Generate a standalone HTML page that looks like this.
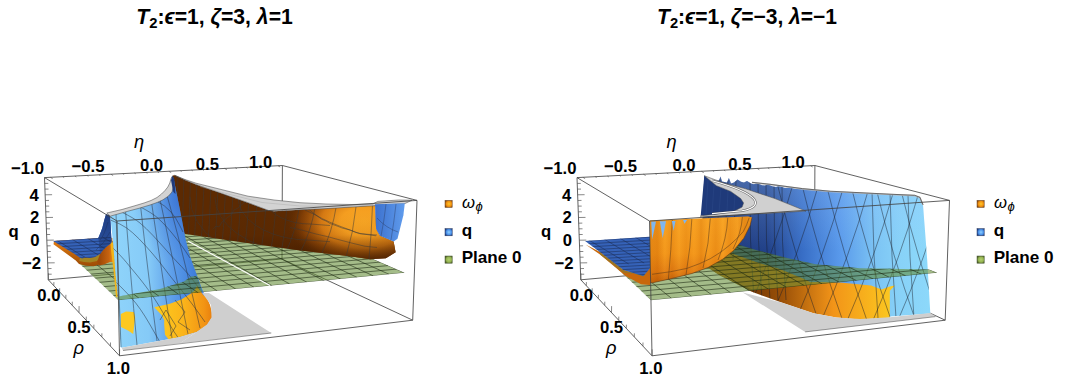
<!DOCTYPE html>
<html><head><meta charset="utf-8">
<style>
html,body{margin:0;padding:0;background:#fff;}
body{width:1072px;height:385px;overflow:hidden;position:relative;}
svg{position:absolute;left:0;top:0;}
text{font-family:"Liberation Sans",sans-serif;font-weight:bold;fill:#000;}
</style></head><body>
<svg width="1072" height="385" viewBox="0 0 1072 385">
<defs>
  <radialGradient id="sw1" cx="0.55" cy="0.5" r="0.6">
    <stop offset="0" stop-color="#ffc828"/><stop offset="0.6" stop-color="#f09010"/><stop offset="1" stop-color="#8a4a08"/>
  </radialGradient>
  <radialGradient id="sw2" cx="0.55" cy="0.5" r="0.6">
    <stop offset="0" stop-color="#8cd0ff"/><stop offset="0.6" stop-color="#4a90e8"/><stop offset="1" stop-color="#1e3c80"/>
  </radialGradient>
  <radialGradient id="sw3" cx="0.55" cy="0.5" r="0.6">
    <stop offset="0" stop-color="#b4d070"/><stop offset="0.6" stop-color="#94b450"/><stop offset="1" stop-color="#4a5a28"/>
  </radialGradient>
</defs>
<defs>
  <linearGradient id="towerL" gradientUnits="userSpaceOnUse" x1="118" y1="0" x2="195" y2="0">
    <stop offset="0" stop-color="#8ed3fa"/>
    <stop offset="0.4" stop-color="#85caf7"/>
    <stop offset="0.7" stop-color="#5e9fea"/>
    <stop offset="1" stop-color="#3f7edb"/>
  </linearGradient>
  <radialGradient id="towerTop" gradientUnits="userSpaceOnUse" cx="0" cy="0" r="1" gradientTransform="translate(180,196) scale(48,70)">
    <stop offset="0" stop-color="#2a5ec8" stop-opacity="0.6"/>
    <stop offset="0.5" stop-color="#2a5ec8" stop-opacity="0.25"/>
    <stop offset="1" stop-color="#2a5ec8" stop-opacity="0"/>
  </radialGradient>
  <linearGradient id="wallL" gradientUnits="userSpaceOnUse" x1="175" y1="0" x2="380" y2="0">
    <stop offset="0" stop-color="#5c2a02"/>
    <stop offset="0.45" stop-color="#5e2b02"/>
    <stop offset="0.62" stop-color="#8a4406"/>
    <stop offset="0.78" stop-color="#dc7e12"/>
    <stop offset="0.9" stop-color="#f69e20"/>
    <stop offset="0.97" stop-color="#f8a422"/>
    <stop offset="1" stop-color="#c06a10"/>
  </linearGradient>
  <radialGradient id="wallGlow" gradientUnits="userSpaceOnUse" cx="0" cy="0" r="1" gradientTransform="translate(364,222) scale(78,48)">
    <stop offset="0" stop-color="#f8a624"/>
    <stop offset="0.3" stop-color="#f59e20"/>
    <stop offset="0.55" stop-color="#dc7e14" stop-opacity="0.95"/>
    <stop offset="0.8" stop-color="#9a4c08" stop-opacity="0.6"/>
    <stop offset="1" stop-color="#5c2a02" stop-opacity="0"/>
  </radialGradient>
  <linearGradient id="wallShade" gradientUnits="userSpaceOnUse" x1="0" y1="212" x2="0" y2="258">
    <stop offset="0" stop-color="#3a1800" stop-opacity="0"/>
    <stop offset="0.5" stop-color="#3a1800" stop-opacity="0.05"/>
    <stop offset="0.8" stop-color="#3a1800" stop-opacity="0.35"/>
    <stop offset="1" stop-color="#3a1800" stop-opacity="0.6"/>
  </linearGradient>
  <linearGradient id="yelL" gradientUnits="userSpaceOnUse" x1="160" y1="0" x2="212" y2="0">
    <stop offset="0" stop-color="#fdc81e"/>
    <stop offset="0.45" stop-color="#fbb41a"/>
    <stop offset="0.85" stop-color="#f29414"/>
    <stop offset="1" stop-color="#e8800e"/>
  </linearGradient>
  <linearGradient id="blueR" gradientUnits="userSpaceOnUse" x1="376" y1="0" x2="404" y2="0">
    <stop offset="0" stop-color="#3d72cf"/>
    <stop offset="1" stop-color="#5f9bec"/>
  </linearGradient>
  <linearGradient id="hillL" gradientUnits="userSpaceOnUse" x1="0" y1="214" x2="0" y2="250">
    <stop offset="0" stop-color="#1e3c80"/>
    <stop offset="1" stop-color="#2c52a0"/>
  </linearGradient>
  <linearGradient id="oraLeft" gradientUnits="userSpaceOnUse" x1="0" y1="242" x2="0" y2="267">
    <stop offset="0" stop-color="#e07a10"/>
    <stop offset="1" stop-color="#9a4a06"/>
  </linearGradient>
</defs>
<path d="M282.4,165.5 L282.0,259.0 M48.3,279.8 L282.0,259.0 M282.0,259.0 L412.7,320.2 " stroke="#444" stroke-width="0.85" fill="none"/>
<clipPath id="pf1"><path d="M60.0,245.5 L291.7,223.6 L404.7,272.8 L118.5,300.3 Z"/></clipPath>
<g ><g clip-path="url(#pf1)"><path d="M60.0,245.5 L291.7,223.6 L404.7,272.8 L118.5,300.3 Z" fill="#638b33" opacity="0.58"/><path d="M46.7,239.6 L118.5,300.3 M63.8,238.5 L139.0,298.3 M80.6,237.4 L159.1,296.4 M97.2,236.3 L178.8,294.5 M113.5,235.2 L198.1,292.7 M129.6,234.2 L217.1,290.8 M145.5,233.2 L235.7,289.0 M161.1,232.1 L254.0,287.3 M176.4,231.1 L271.9,285.6 M191.6,230.1 L289.6,283.9 M206.5,229.2 L306.9,282.2 M221.2,228.2 L323.9,280.6 M235.7,227.3 L340.6,279.0 M250.0,226.3 L357.1,277.4 M264.1,225.4 L373.2,275.8 M278.0,224.5 L389.1,274.3 M291.7,223.6 L404.7,272.8 M46.7,239.6 L291.7,223.6 M50.4,242.7 L297.6,226.2 M54.1,245.9 L303.7,228.8 M58.0,249.1 L309.8,231.5 M61.9,252.5 L316.1,234.2 M66.0,255.9 L322.6,237.1 M70.1,259.4 L329.2,239.9 M74.4,263.0 L336.0,242.9 M78.8,266.7 L342.9,245.9 M83.3,270.5 L350.0,249.0 M87.9,274.4 L357.2,252.1 M92.6,278.4 L364.7,255.4 M97.5,282.5 L372.3,258.7 M102.5,286.8 L380.1,262.1 M107.7,291.2 L388.1,265.6 M113.0,295.7 L396.3,269.1 M118.5,300.3 L404.7,272.8" stroke="#1c2812" stroke-width="0.8" fill="none" opacity="0.72"/></g></g>
<path d="M188.2,241.3 L270,285.5" stroke="#fff" stroke-width="1.1"/>
<path d="M172.5,175.5 L174.7,175.3 L185.0,180.0 L196.0,184.5 L222.0,193.6 L248.0,202.7 L268.7,210.5 L274.0,211.2 L300.0,209.7 L326.0,208.6 L352.0,207.0 L375.0,205.6 L376.1,229.0 L380.0,235.8 L393.6,241.6 L395.6,252.3 L385.9,258.2 L370.3,259.2 L350.0,256.2 L300.0,250.4 L230.0,240.6 L185.5,234.0 L176.0,232.0 Z" fill="#5c2a02" />
<path d="M172.5,175.5 L174.7,175.3 L185.0,180.0 L196.0,184.5 L222.0,193.6 L248.0,202.7 L268.7,210.5 L274.0,211.2 L300.0,209.7 L326.0,208.6 L352.0,207.0 L375.0,205.6 L376.1,229.0 L380.0,235.8 L393.6,241.6 L395.6,252.3 L385.9,258.2 L370.3,259.2 L350.0,256.2 L300.0,250.4 L230.0,240.6 L185.5,234.0 L176.0,232.0 Z" fill="url(#wallGlow)" />
<path d="M172.5,175.5 L174.7,175.3 L185.0,180.0 L196.0,184.5 L222.0,193.6 L248.0,202.7 L268.7,210.5 L274.0,211.2 L300.0,209.7 L326.0,208.6 L352.0,207.0 L375.0,205.6 L376.1,229.0 L380.0,235.8 L393.6,241.6 L395.6,252.3 L385.9,258.2 L370.3,259.2 L350.0,256.2 L300.0,250.4 L230.0,240.6 L185.5,234.0 L176.0,232.0 Z" fill="url(#wallShade)" />
<clipPath id="wallClip"><path d="M172.5,175.5 L174.7,175.3 L185.0,180.0 L196.0,184.5 L222.0,193.6 L248.0,202.7 L268.7,210.5 L274.0,211.2 L300.0,209.7 L326.0,208.6 L352.0,207.0 L375.0,205.6 L376.1,229.0 L380.0,235.8 L393.6,241.6 L395.6,252.3 L385.9,258.2 L370.3,259.2 L350.0,256.2 L300.0,250.4 L230.0,240.6 L185.5,234.0 L176.0,232.0 Z"/></clipPath>
<g clip-path="url(#wallClip)"><path d="M178.0,173.5 Q177.1,219.3 174.9,262 M184.0,175.7 Q183.0,220.3 180.6,262 M190.5,178.1 Q189.4,221.5 186.9,262 M197.0,180.4 Q195.8,222.7 193.1,262 M204.0,183.0 Q202.8,224.0 199.8,262 M211.0,185.5 Q209.7,225.3 206.6,262 M218.0,188.1 Q216.6,226.6 213.3,262 M225.5,190.8 Q224.0,227.9 220.5,262 M233.0,193.6 Q231.4,229.3 227.7,262 M241.0,196.5 Q239.3,230.7 235.4,262 M249.0,199.4 Q247.2,232.2 243.0,262 M257.0,202.3 Q255.1,233.7 250.7,262 M266.0,205.6 Q264.0,235.3 259.4,262 M276.0,207.2 Q273.9,236.1 269.0,262 M287.0,206.7 Q284.8,235.8 279.5,262 M299,208.5 Q295.8,230.8 286,252 M315,207.6 Q311.2,230.8 300,253 M336.2,206.6 Q332.4,231.3 321,255 M356.2,205.5 Q353.6,231.8 346,257 M372.5,204.8 Q371.6,232.4 369,259 M290,227.5 Q303,230 315,233.75 Q328,236.5 340,240 Q353,243.5 365,246.25 L377,247.5 M305,210 Q314,214 322.5,218.75 Q331,223 340,226.25 Q350,230 360,233.75 L377,235 M265.0,197.0 L265.7,201.7 L267.7,206.2 L271.0,210.5 L275.5,214.4 L281.1,217.7 L287.5,220.4 L294.6,222.4 L302.2,223.6 L310.0,224.0 L330.0,225.5 M238.0,197.0 L239.1,204.5 L242.3,211.8 L247.6,218.6 L254.8,224.8 L263.7,230.1 L274.0,234.4 L285.4,237.6 L297.5,239.5 L310.0,240.2 L330.0,241.7 M215.0,197.0 L216.4,206.9 L220.7,216.5 L227.7,225.5 L237.2,233.6 L248.9,240.7 L262.5,246.4 L277.5,250.6 L293.5,253.1 L310.0,254.0 L330.0,255.5 M190.0,197.0 L191.8,209.5 L197.2,221.6 L206.1,233.0 L218.1,243.3 L232.9,252.2 L250.0,259.4 L269.0,264.7 L289.2,267.9 L310.0,269.0 L330.0,270.5 " stroke="#3a3a3a" stroke-width="0.7" fill="none" opacity="0.7" />
</g>
<path d="M212.7,229.5 L216,226 L219,227 L222,222 L227.3,217.7 L231,215 L234,210 L238,208 L243.6,203.2 L247,201 M300,207.5 L305,208 L308,208.5 L312,212 L316,215 L321.6,219.2 L326,221 L330,223.5 L337,226 L342,228 L350,230 L356,232.5 L362,233.8 L370,235 L376,235.8" stroke="#3a3a3a" stroke-width="0.7" fill="none" opacity="0.7" />
<path d="M174.7,175.3 L185.0,179.5 L196.0,183.2 L222.0,189.7 L248.0,196.2 L274.0,200.0 L300.0,202.7 L326.0,204.0 L352.0,204.5 L372.6,204.0 L377.8,201.4 L398.6,200.0 L412.0,200.2 L405.0,203.5 L376.0,205.6 L352.0,207.0 L326.0,208.6 L300.0,209.7 L274.0,211.2 L268.7,210.5 L248.0,202.7 L222.0,193.6 L196.0,184.5 L185.0,180.0 Z" fill="#d3d3d3" stroke="#4a4a4a" stroke-width="0.55" stroke-linejoin="round"/>
<path d="M200,186.5 L230,194.5 L262,202.5 L300,206 L340,206.5 L374,205" stroke="#a0a0a0" stroke-width="0.5" fill="none" opacity="0.7" />
<path d="M375.0,204.2 L404.8,203.2 L403.4,215.3 L397.5,238.7 L393.6,241.6 L380.0,235.8 L376.1,229.0 Z" fill="url(#blueR)" />
<path d="M386,204 Q384,222 381,236 M396,204 Q394,222 391,240 M377,218 Q386,228 398,232" stroke="#2a3a60" stroke-width="0.6" fill="none" opacity="0.7" />
<path d="M53.5,244.2 L75.8,260.5 L79.0,264.0 L85.8,265.8 L93.8,266.3 L99.5,264.6 L104.0,261.2 L107.5,256.6 L109.8,250.9 L110.4,242.9 L112.5,242.5 L112.5,238.0 L100.0,238.0 L54.0,241.0 Z" fill="url(#oraLeft)" />
<path d="M80.0,258.0 L85.0,257.5 L90.0,258.0 L95.0,257.0 L100.0,254.0 L102.0,252.0 L101.0,257.0 L97.0,261.0 L90.0,262.5 L84.0,262.0 L79.0,261.0 Z" fill="#a08c28" opacity="0.85"/>
<linearGradient id="tentL" gradientUnits="userSpaceOnUse" x1="100" y1="0" x2="113" y2="0"><stop offset="0" stop-color="#a04a08"/><stop offset="0.7" stop-color="#c86410"/><stop offset="1" stop-color="#e88c18"/></linearGradient>
<path d="M100.0,254.0 L103.0,250.0 L106.0,247.0 L110.0,244.0 L111.5,242.0 L113.5,243.0 L114.5,262.0 L110.0,262.0 L104.0,264.5 L99.0,265.6 L97.0,262.0 Z" fill="url(#tentL)" />
<path d="M110.5,242.0 L113.2,243.0 L115.8,275.0 L117.5,297.0 L116.0,297.0 L113.5,270.0 L111.0,250.0 Z" fill="#f2b418" />
<path d="M53.1,240.9 L98.3,238.1 L100.6,232.6 L102.3,228.0 L104.3,220.0 L106.0,214.3 L110.2,215.5 L111.5,242.0 L110.0,244.0 L106.0,247.0 L103.0,250.0 L100.0,254.0 L95.0,257.0 L90.0,258.0 L85.0,257.5 L82.3,258.5 L80.0,257.8 L73.4,253.2 Z" fill="#3562b8" />
<path d="M98.3,238.1 L100.6,232.6 L102.3,228.0 L104.3,220.0 L106.0,214.3 L110.2,215.5 L111.5,242.0 L110.0,244.0 L106.0,247.0 L103.0,250.0 L100.0,254.0 L99.0,243.0 Z" fill="url(#hillL)" />
<clipPath id="bflatL"><path d="M53.1,240.9 L98.3,238.1 L100.6,232.6 L102.3,228.0 L104.3,220.0 L106.0,214.3 L110.2,215.5 L111.5,242.0 L110.0,244.0 L106.0,247.0 L103.0,250.0 L100.0,254.0 L95.0,257.0 L90.0,258.0 L85.0,257.5 L82.3,258.5 L80.0,257.8 L73.4,253.2 Z"/></clipPath>
<g clip-path="url(#bflatL)"><path d="M48.1,241.2 L173.1,233.7 M48.1,244.3 L173.1,236.8 M48.1,247.4 L173.1,239.9 M48.1,250.5 L173.1,243.0 M48.1,253.6 L173.1,246.1 M48.1,256.7 L173.1,249.2 M48.1,259.8 L173.1,252.3 M48.1,262.9 L173.1,255.4 M48.1,266.0 L173.1,258.5 M40.6,240.8 L80.6,264.8 M56.1,239.9 L96.1,263.9 M71.6,239.0 L111.6,263.0 M87.1,238.0 L127.1,262.0 M102.6,237.1 L142.6,261.1 M118.1,236.2 L158.1,260.2 M133.6,235.2 L173.6,259.2 M149.1,234.3 L189.1,258.3 M164.6,233.4 L204.6,257.4 " stroke="#1a2a50" stroke-width="0.7" fill="none" opacity="0.75" />
</g>
<path d="M100,240 Q104,236 108,222 M96,250 Q104,244 110,232" stroke="#1a2a50" stroke-width="0.6" fill="none" opacity="0.6" />
<path d="M110.2,215.5 L139.0,205.5 L158.5,198.8 L166.3,193.8 L170.2,188.0 L171.2,178.0 L172.5,176.0 L174.0,180.6 L180.0,210.0 L185.8,240.0 L190.0,256.0 L193.2,265.0 L198.0,278.0 L202.0,289.0 L206.0,297.0 L209.5,305.0 L211.5,313.0 L211.5,317.4 L207.0,324.6 L196.6,331.9 L180.0,337.0 L168.4,339.2 L121.7,347.7 L120.4,347.0 L118.2,297.0 L115.6,275.0 L113.3,245.0 Z" fill="url(#towerL)" />
<path d="M110.2,215.5 L139.0,205.5 L158.5,198.8 L166.3,193.8 L170.2,188.0 L171.2,178.0 L172.5,176.0 L174.0,180.6 L180.0,210.0 L185.8,240.0 L190.0,256.0 L193.2,265.0 L198.0,278.0 L202.0,289.0 L206.0,297.0 L209.5,305.0 L211.5,313.0 L211.5,317.4 L207.0,324.6 L196.6,331.9 L180.0,337.0 L168.4,339.2 L121.7,347.7 L120.4,347.0 L118.2,297.0 L115.6,275.0 L113.3,245.0 Z" fill="url(#towerTop)" />
<clipPath id="towerClip"><path d="M110.2,215.5 L139.0,205.5 L158.5,198.8 L166.3,193.8 L170.2,188.0 L171.2,178.0 L172.5,176.0 L174.0,180.6 L180.0,210.0 L185.8,240.0 L190.0,256.0 L193.2,265.0 L198.0,278.0 L202.0,289.0 L206.0,297.0 L209.5,305.0 L211.5,313.0 L211.5,317.4 L207.0,324.6 L196.6,331.9 L180.0,337.0 L168.4,339.2 L121.7,347.7 L120.4,347.0 L118.2,297.0 L115.6,275.0 L113.3,245.0 Z"/></clipPath>
<path d="M154.3,307.3 L169.9,303.7 L181.3,299.5 L189.7,294.3 L194.0,291.0 L197.0,286.0 L203.2,295.0 L206.5,297.0 L210.0,305.0 L212.0,313.0 L212.0,317.6 L207.3,325.0 L196.6,331.9 L180.0,337.0 L168.4,339.2 L165.0,334.7 L164.2,325.0 L164.2,320.3 L161.6,315.1 Z" fill="url(#yelL)" />
<path d="M120.8,314.0 L126.0,311.6 L133.8,312.0 L135.2,317.0 L133.2,334.0 L128.0,330.5 L121.0,327.0 Z" fill="#fcc820" />
<g clip-path="url(#towerClip)"><path d="M116,213.5 Q118.5,280 121,347 M125.5,210.5 Q130,270 137,345 M140.5,205.5 Q147,265 157,341 M151.4,201.5 Q160,260 172,338 M159.6,197.5 Q172,255 188,334 M166.4,193.5 Q180,240 200,328 M110.5,220 Q121,224 126.7,228.0 Q132.3,232 139.2,239.0 Q146,246 152.8,254.0 Q159.6,262 164.8,269.0 Q170,276 175.7,283.0 Q181.4,290 187.2,297.5 Q193,305 199.0,313.5 L205,322 M121.4,212 Q134,218 140.0,223.0 Q146,228 153.0,235.5 Q160,243 166.6,250.5 Q173.2,258 181.4,266.5 Q189.6,275 194.8,282.5 L200,290 M140.5,207 Q152,213 157.2,217.5 Q162.3,222 167.2,227.5 Q172,233 176.7,239.0 Q181.4,245 185.7,251.5 L190,258 M113,248 Q122,257 126.5,262.5 Q131,268 136.0,274.0 Q141,280 145.5,286.0 Q150,292 154.0,298.0 Q158,304 162.0,311.0 Q166,318 170.0,325.0 Q174,332 177.0,336.0 L180,340 M116,282 Q126,292 131.0,297.5 Q136,303 140.5,309.5 Q145,316 149.0,323.0 Q153,330 156.5,336.0 L160,342 M155,200 Q166,206 171.0,212.0 Q176,218 179.5,225.0 L183,232 M175,300 L185,312 L178,322 L190,330 M160,320 L166,310 L176,326 L170,336 " stroke="#2a3240" stroke-width="0.7" fill="none" opacity="0.72" />
</g>
<path d="M106.8,213.0 L122.0,209.5 L134.0,206.0 L144.0,203.0 L151.0,200.5 L157.0,197.5 L161.5,194.0 L165.0,190.5 L167.8,187.0 L169.8,183.0 L171.0,178.7 L172.5,176.0 L173.8,179.5 L173.5,186.0 L172.0,192.0 L168.5,196.0 L163.0,199.8 L157.0,202.5 L150.0,205.0 L140.0,208.0 L128.0,211.2 L110.2,216.2 Z" fill="#d3d3d3" stroke="#4a4a4a" stroke-width="0.55" stroke-linejoin="round"/>
<path d="M171.0,180.0 L172.5,176.0 L174.3,179.0 L175.5,194.0 L173.3,192.0 Z" fill="#1f3a7a" />
<clipPath id="bandL"><path d="M118.5,296.5 L160.0,288.9 L183.9,281.6 L191.2,276.4 L197.0,276.0 L202.6,292.6 L118.5,300.3 Z"/></clipPath>
<clipPath id="pf2"><path d="M60.0,245.5 L291.7,223.6 L404.7,272.8 L118.5,300.3 Z"/></clipPath>
<g clip-path="url(#bandL)"><g clip-path="url(#pf2)"><path d="M60.0,245.5 L291.7,223.6 L404.7,272.8 L118.5,300.3 Z" fill="#638b33" opacity="0.58"/><path d="M46.7,239.6 L118.5,300.3 M63.8,238.5 L139.0,298.3 M80.6,237.4 L159.1,296.4 M97.2,236.3 L178.8,294.5 M113.5,235.2 L198.1,292.7 M129.6,234.2 L217.1,290.8 M145.5,233.2 L235.7,289.0 M161.1,232.1 L254.0,287.3 M176.4,231.1 L271.9,285.6 M191.6,230.1 L289.6,283.9 M206.5,229.2 L306.9,282.2 M221.2,228.2 L323.9,280.6 M235.7,227.3 L340.6,279.0 M250.0,226.3 L357.1,277.4 M264.1,225.4 L373.2,275.8 M278.0,224.5 L389.1,274.3 M291.7,223.6 L404.7,272.8 M46.7,239.6 L291.7,223.6 M50.4,242.7 L297.6,226.2 M54.1,245.9 L303.7,228.8 M58.0,249.1 L309.8,231.5 M61.9,252.5 L316.1,234.2 M66.0,255.9 L322.6,237.1 M70.1,259.4 L329.2,239.9 M74.4,263.0 L336.0,242.9 M78.8,266.7 L342.9,245.9 M83.3,270.5 L350.0,249.0 M87.9,274.4 L357.2,252.1 M92.6,278.4 L364.7,255.4 M97.5,282.5 L372.3,258.7 M102.5,286.8 L380.1,262.1 M107.7,291.2 L388.1,265.6 M113.0,295.7 L396.3,269.1 M118.5,300.3 L404.7,272.8" stroke="#1c2812" stroke-width="0.8" fill="none" opacity="0.72"/></g></g>
<path d="M202.0,292.8 L209.0,293.0 L271.3,333.0 L180.0,343.3 L196.6,331.9 L207.0,324.6 L211.5,317.4 L211.0,305.0 Z" fill="#cfcfcf" />
<path d="M121.7,347.7 L168.4,339.2 L180.0,337.0 L196.6,331.9 L180.0,343.3 L123.0,350.5 Z" fill="#cfcfcf" />
<path d="M123,350.5 L271.3,333" stroke="#4a4a4a" stroke-width="0.6" fill="none" opacity="0.9" />
<path d="M44.5,177.6 L282.4,165.5 M282.4,165.5 L417.0,200.4 M417.0,200.4 L117.0,221.0 M117.0,221.0 L44.5,177.6 M44.5,177.6 L48.3,279.8 M48.3,279.8 L119.5,355.8 M119.5,355.8 L412.7,320.2 M412.7,320.2 L417.0,200.4 M117.0,221.0 L119.5,355.8 " stroke="#444" stroke-width="0.85" fill="none"/>
<path d="M48.1,274.2 L51.7,274.2 M47.9,268.6 L51.5,268.5 M47.7,262.9 L54.7,262.8 M47.5,257.2 L51.1,257.2 M47.2,251.5 L50.8,251.5 M47.0,245.9 L50.6,245.8 M46.8,240.2 L53.8,240.1 M46.6,234.5 L50.2,234.5 M46.4,228.8 L50.0,228.8 M46.2,223.2 L49.8,223.1 M46.0,217.5 L53.0,217.4 M45.8,211.8 L49.4,211.8 M45.6,206.1 L49.2,206.1 M45.4,200.5 L49.0,200.4 M45.1,194.8 L52.1,194.7 M44.9,189.1 L48.5,189.1 M44.7,183.4 L48.3,183.4 M48.3,279.8 L48.4,273.3 M53.8,285.7 L53.9,282.1 M59.6,291.9 L59.7,288.3 M65.8,298.4 L65.9,294.8 M72.2,305.3 L72.3,301.7 M79.0,312.6 L79.1,306.1 M86.2,320.2 L86.3,316.6 M93.8,328.3 L93.9,324.7 M101.8,336.9 L101.9,333.3 M110.4,346.1 L110.5,342.5 M119.5,355.8 L119.6,349.3 M50.4,177.3 L52.6,178.6 M62.7,176.7 L64.1,177.5 M74.9,176.1 L76.3,176.9 M87.0,175.4 L88.4,176.2 M99.0,174.8 L100.4,175.6 M110.9,174.2 L113.1,175.5 M122.7,173.6 L124.1,174.4 M134.4,173.0 L135.8,173.8 M146.0,172.4 L147.4,173.2 M157.5,171.9 L158.9,172.7 M168.9,171.3 L171.2,172.6 M180.3,170.7 L181.6,171.5 M191.5,170.1 L192.8,170.9 M202.6,169.6 L204.0,170.4 M213.6,169.0 L215.0,169.8 M224.6,168.4 L226.8,169.7 M235.4,167.9 L236.8,168.7 M246.2,167.3 L247.6,168.1 M256.9,166.8 L258.3,167.6 M267.5,166.3 L268.8,167.1 M278.0,165.7 L280.2,167.0 " stroke="#555" stroke-width="0.7" fill="none"/>
<g font-size="16.7" transform="translate(0,0)">
<text x="11" y="174">−1.0</text>
<text x="71.6" y="172.2">−0.5</text>
<text x="139.9" y="171.2">0.0</text>
<text x="195.8" y="170.2">0.5</text>
<text x="249" y="167.6">1.0</text>
<text x="38.9" y="200.6" text-anchor="end">4</text>
<text x="39.3" y="223.4" text-anchor="end">2</text>
<text x="39.6" y="246.2" text-anchor="end">0</text>
<text x="41" y="268.6" text-anchor="end">−2</text>
<text x="8.6" y="237.2">q</text>
<text x="37.3" y="301">0.0</text>
<text x="67.4" y="333">0.5</text>
<text x="106.8" y="374.3">1.0</text>
<text x="134" y="148.3" style="font-style:italic;font-weight:normal;font-size:18.3px">η</text>
<text x="73.6" y="354.3" style="font-style:italic;font-weight:normal;font-size:18.3px">ρ</text>
</g>
<defs>
  <linearGradient id="wallR" gradientUnits="userSpaceOnUse" x1="700" y1="0" x2="928" y2="0">
    <stop offset="0" stop-color="#1d3677"/>
    <stop offset="0.3" stop-color="#22428a"/>
    <stop offset="0.45" stop-color="#386ec6"/>
    <stop offset="0.61" stop-color="#5898ea"/>
    <stop offset="0.77" stop-color="#7cc4f4"/>
    <stop offset="0.88" stop-color="#88d2f8"/>
    <stop offset="1" stop-color="#8cd8fa"/>
  </linearGradient>
  <linearGradient id="wallRv" gradientUnits="userSpaceOnUse" x1="0" y1="182" x2="0" y2="250">
    <stop offset="0" stop-color="#9cc8ff" stop-opacity="0.3"/>
    <stop offset="1" stop-color="#9cc8ff" stop-opacity="0"/>
  </linearGradient>
  <linearGradient id="oraR" gradientUnits="userSpaceOnUse" x1="745" y1="0" x2="892" y2="0">
    <stop offset="0" stop-color="#6e3404"/>
    <stop offset="0.25" stop-color="#9a5008"/>
    <stop offset="0.6" stop-color="#f29418"/>
    <stop offset="1" stop-color="#fcc820"/>
  </linearGradient>
  <linearGradient id="bowlR" gradientUnits="userSpaceOnUse" x1="0" y1="218" x2="0" y2="283">
    <stop offset="0" stop-color="#f8a020"/>
    <stop offset="0.55" stop-color="#f39418"/>
    <stop offset="0.82" stop-color="#e27c12"/>
    <stop offset="1" stop-color="#bc5c08"/>
  </linearGradient>
<linearGradient id="bowlS" gradientUnits="userSpaceOnUse" x1="650" y1="0" x2="752" y2="0"><stop offset="0.000" stop-color="#ffc040" stop-opacity="0.12"/><stop offset="0.071" stop-color="#b05000" stop-opacity="0.14"/><stop offset="0.143" stop-color="#ffc040" stop-opacity="0.13"/><stop offset="0.214" stop-color="#b05000" stop-opacity="0.15"/><stop offset="0.286" stop-color="#ffc040" stop-opacity="0.15"/><stop offset="0.357" stop-color="#b05000" stop-opacity="0.11"/><stop offset="0.429" stop-color="#ffc040" stop-opacity="0.10"/><stop offset="0.500" stop-color="#b05000" stop-opacity="0.17"/><stop offset="0.571" stop-color="#ffc040" stop-opacity="0.12"/><stop offset="0.643" stop-color="#b05000" stop-opacity="0.12"/><stop offset="0.714" stop-color="#ffc040" stop-opacity="0.18"/><stop offset="0.786" stop-color="#b05000" stop-opacity="0.14"/><stop offset="0.857" stop-color="#ffc040" stop-opacity="0.17"/><stop offset="0.929" stop-color="#b05000" stop-opacity="0.14"/><stop offset="1.000" stop-color="#ffc040" stop-opacity="0.15"/></linearGradient>
  <linearGradient id="bowlH" gradientUnits="userSpaceOnUse" x1="650" y1="0" x2="752" y2="0">
    <stop offset="0" stop-color="#c86000" stop-opacity="0.35"/>
    <stop offset="0.15" stop-color="#c86000" stop-opacity="0"/>
    <stop offset="0.8" stop-color="#c86000" stop-opacity="0"/>
    <stop offset="1" stop-color="#c86000" stop-opacity="0.3"/>
  </linearGradient>
</defs>
<path d="M814.9,165.5 L814.5,259.0 M580.8,279.8 L814.5,259.0 M814.5,259.0 L945.2,320.2 " stroke="#444" stroke-width="0.85" fill="none"/>
<path d="M704.3,175.7 L708.0,178.5 L716.0,181.0 L719.0,180.5 L720.5,176.4 L722.0,181.5 L727.0,182.5 L728.9,178.0 L731.0,183.5 L734.0,182.5 L737.5,179.5 L741.0,181.8 L744.0,182.6 L747.0,181.0 L751.0,183.6 L754.0,184.2 L757.0,183.0 L762.0,185.2 L765.0,185.6 L768.0,184.5 L773.0,186.6 L776.0,187.0 L779.0,186.0 L785.0,188.0 L790.0,187.6 L796.0,189.0 L802.3,188.9 L830.0,191.5 L860.0,193.0 L890.0,194.5 L914.7,195.6 L919.9,197.6 L923.0,205.0 L925.1,231.9 L927.2,260.0 L930.3,313.5 L889.8,316.5 L860.0,316.0 L800.0,300.0 L750.0,286.0 L700.7,260.0 Z" fill="url(#wallR)" />
<path d="M704.3,175.7 L708.0,178.5 L716.0,181.0 L719.0,180.5 L720.5,176.4 L722.0,181.5 L727.0,182.5 L728.9,178.0 L731.0,183.5 L734.0,182.5 L737.5,179.5 L741.0,181.8 L744.0,182.6 L747.0,181.0 L751.0,183.6 L754.0,184.2 L757.0,183.0 L762.0,185.2 L765.0,185.6 L768.0,184.5 L773.0,186.6 L776.0,187.0 L779.0,186.0 L785.0,188.0 L790.0,187.6 L796.0,189.0 L802.3,188.9 L830.0,191.5 L860.0,193.0 L890.0,194.5 L914.7,195.6 L919.9,197.6 L923.0,205.0 L925.1,231.9 L927.2,260.0 L930.3,313.5 L889.8,316.5 L860.0,316.0 L800.0,300.0 L750.0,286.0 L700.7,260.0 Z" fill="url(#wallRv)" />
<path d="M698.0,249.0 L730.0,252.9 L758.6,262.9 L780.0,269.3 L801.4,277.9 L810.0,282.1 L840.0,282.4 L871.1,285.5 L881.5,289.6 L889.8,286.5 L895.0,285.5 L889.8,290.7 L889.8,317.7 L860.0,319.5 L836.3,317.4 L813.5,313.2 L782.3,302.8 L751.2,291.5 L720.0,275.4 L706.4,266.4 L696.0,259.0 Z" fill="url(#oraR)" />
<path d="M698.0,249.0 L730.0,252.9 L758.6,262.9 L780.0,269.3 L801.4,277.9 L810.0,282.1 L800.0,285.0 L780.0,288.0 L751.2,289.0 L720.0,275.4 L706.4,266.4 L696.0,259.0 Z" fill="#c87010" opacity="0.75"/>
<clipPath id="wallRClip"><path d="M704.3,175.7 L708.0,178.5 L716.0,181.0 L719.0,180.5 L720.5,176.4 L722.0,181.5 L727.0,182.5 L728.9,178.0 L731.0,183.5 L734.0,182.5 L737.5,179.5 L741.0,181.8 L744.0,182.6 L747.0,181.0 L751.0,183.6 L754.0,184.2 L757.0,183.0 L762.0,185.2 L765.0,185.6 L768.0,184.5 L773.0,186.6 L776.0,187.0 L779.0,186.0 L785.0,188.0 L790.0,187.6 L796.0,189.0 L802.3,188.9 L830.0,191.5 L860.0,193.0 L890.0,194.5 L914.7,195.6 L919.9,197.6 L923.0,205.0 L925.1,231.9 L927.2,260.0 L930.3,313.5 L889.8,316.5 L860.0,316.0 L800.0,300.0 L750.0,286.0 L700.7,260.0 Z"/><path d="M698.0,249.0 L730.0,252.9 L758.6,262.9 L780.0,269.3 L801.4,277.9 L810.0,282.1 L840.0,282.4 L871.1,285.5 L881.5,289.6 L889.8,286.5 L895.0,285.5 L889.8,290.7 L889.8,317.7 L860.0,319.5 L836.3,317.4 L813.5,313.2 L782.3,302.8 L751.2,291.5 L720.0,275.4 L706.4,266.4 L696.0,259.0 Z"/></clipPath>
<g clip-path="url(#wallRClip)"><path d="M777.0,182.7 Q793.5,251.4 818.2,320 M802.0,185.0 Q818.2,252.5 842.5,320 M827.0,187.3 Q842.9,253.7 866.8,320 M852.0,189.6 Q867.6,254.8 891.1,320 M877.0,191.9 Q892.4,256.0 915.4,320 M902.0,194.2 Q917.1,257.1 939.7,320 M927.0,196.5 Q941.8,258.3 964.0,320 M793.0,184.2 Q774.0,252.1 744.1,320 M818.0,186.5 Q799.3,253.2 769.9,320 M843.0,188.8 Q824.6,254.4 795.8,320 M868.0,191.1 Q850.0,255.5 821.6,320 M893.0,193.4 Q875.3,256.7 847.4,320 M918.0,195.4 Q900.6,257.7 873.1,320 M943.0,195.4 Q925.6,257.7 898.1,320 M750.0,180.2 Q749.0,240.1 754.0,300 M758.0,181.0 Q757.0,240.5 762.0,300 M766.0,181.7 Q765.0,240.9 770.0,300 M774.0,182.4 Q773.0,241.2 778.0,300 M782.0,183.2 Q781.0,241.6 786.0,300 M872,191.5 Q873,254.7 878,318 M890,193.1 Q891,255.6 896,318 M908,194.8 Q909,256.4 914,318 M712,178.7 L705,260 M720,179.5 L716,260 M728,180.2 L724,260 M736,180.9 L733,260 " stroke="#1a1f2a" stroke-width="0.7" fill="none" opacity="0.65" />
</g>
<path d="M752,182.5 L770,184.5 L802.3,188.9 L830,191.5 L860,193 L890,194.5 L914.7,195.6 L919.9,197.6 L923,205" stroke="#bbb" stroke-width="1.6" fill="none" opacity="0.9" />
<path d="M752,182.3 L770,184.3 L802.3,188.6 L830,191.2 L860,192.7 L890,194.2 L914.7,195.3 L919.9,197.3 L923,204.8" stroke="#444" stroke-width="0.8" fill="none" opacity="0.9" />
<path d="M742.8,292.5 L782.3,302.8 L813.5,313.2 L836.3,317.4 L860.0,319.0 L889.8,317.2 L930.3,313.0 L935.5,316.6 L805.2,331.9 Z" fill="#cfcfcf" />
<path d="M805.2,331.9 L935.5,316.6" stroke="#4a4a4a" stroke-width="0.6" fill="none" opacity="0.9" />
<clipPath id="pclipR"><path d="M560.0,200.0 L700.0,238.0 L734.3,243.6 L758.6,250.7 L787.1,257.9 L815.7,264.3 L860.0,268.2 L929.3,269.5 L940.0,272.4 L940.0,320.0 L560.0,320.0 Z"/></clipPath>
<clipPath id="pf3"><path d="M592.5,245.5 L824.2,223.6 L937.2,272.8 L651.0,300.3 Z"/></clipPath>
<g clip-path="url(#pclipR)"><g clip-path="url(#pf3)"><path d="M592.5,245.5 L824.2,223.6 L937.2,272.8 L651.0,300.3 Z" fill="#638b33" opacity="0.58"/><path d="M579.2,239.6 L651.0,300.3 M596.3,238.5 L671.5,298.3 M613.1,237.4 L691.6,296.4 M629.7,236.3 L711.3,294.5 M646.0,235.2 L730.6,292.7 M662.1,234.2 L749.6,290.8 M678.0,233.2 L768.2,289.0 M693.6,232.1 L786.5,287.3 M708.9,231.1 L804.4,285.6 M724.1,230.1 L822.1,283.9 M739.0,229.2 L839.4,282.2 M753.7,228.2 L856.4,280.6 M768.2,227.3 L873.1,279.0 M782.5,226.3 L889.6,277.4 M796.6,225.4 L905.7,275.8 M810.5,224.5 L921.6,274.3 M824.2,223.6 L937.2,272.8 M579.2,239.6 L824.2,223.6 M582.9,242.7 L830.1,226.2 M586.6,245.9 L836.2,228.8 M590.5,249.1 L842.3,231.5 M594.4,252.5 L848.6,234.2 M598.5,255.9 L855.1,237.1 M602.6,259.4 L861.7,239.9 M606.9,263.0 L868.5,242.9 M611.3,266.7 L875.4,245.9 M615.8,270.5 L882.5,249.0 M620.4,274.4 L889.7,252.1 M625.1,278.4 L897.2,255.4 M630.0,282.5 L904.8,258.7 M635.0,286.8 L912.6,262.1 M640.2,291.2 L920.6,265.6 M645.5,295.7 L928.8,269.1 M651.0,300.3 L937.2,272.8" stroke="#1c2812" stroke-width="0.8" fill="none" opacity="0.72"/></g></g>
<path d="M650.0,220.6 L748.0,216.4 L752.0,217.5 L750.0,225.8 L743.8,238.2 L733.4,250.7 L723.0,259.0 L708.5,267.3 L691.9,273.5 L671.1,278.7 L652.5,282.8 L650.0,283.0 Z" fill="url(#bowlR)" />
<path d="M650.0,220.6 L748.0,216.4 L752.0,217.5 L750.0,225.8 L743.8,238.2 L733.4,250.7 L723.0,259.0 L708.5,267.3 L691.9,273.5 L671.1,278.7 L652.5,282.8 L650.0,283.0 Z" fill="url(#bowlS)" />
<path d="M650.0,220.6 L748.0,216.4 L752.0,217.5 L750.0,225.8 L743.8,238.2 L733.4,250.7 L723.0,259.0 L708.5,267.3 L691.9,273.5 L671.1,278.7 L652.5,282.8 L650.0,283.0 Z" fill="url(#bowlH)" />
<clipPath id="bowlClip"><path d="M650.0,220.6 L748.0,216.4 L752.0,217.5 L750.0,225.8 L743.8,238.2 L733.4,250.7 L723.0,259.0 L708.5,267.3 L691.9,273.5 L671.1,278.7 L652.5,282.8 L650.0,283.0 Z"/></clipPath>
<g clip-path="url(#bowlClip)"><path d="M672.3,220 Q671.3,249.5 668.4,279 M691.8,219.2 Q690.8,247.1 686,275 M710.3,218.4 Q709.3,243.2 703,268 M727.8,217.6 Q726.8,238.8 718,260 M742.4,216.8 Q741.4,232.9 733,249 M652,274.3 Q672,272 686.9,268.4 Q700,264 710.3,258.7 Q722,252 729.7,245.1 Q738,238 743.3,231.5 Q747,225 749.2,217.8 " stroke="#5a3a1a" stroke-width="0.7" fill="none" opacity="0.75" />
</g>
<path d="M650,283 L652.5,282.8 L671.1,278.7 L691.9,273.5 L708.5,267.3 L723,259 L733.4,250.7 L743.8,238.2 L750,225.8 L752,217.5" stroke="#5a3010" stroke-width="0.7" fill="none" opacity="0.8" />
<path d="M651.2,221.5 L656.0,221.5 L652.2,239.4 Z" fill="#7fb6ee" />
<path d="M659.8,221.3 L666.0,221.3 L662.7,238.2 Z" fill="#7fb6ee" />
<path d="M671.8,221.0 L675.5,221.0 L673.6,230.8 Z" fill="#7fb6ee" />
<path d="M683.0,220.0 L687.0,220.0 L684.6,223.7 Z" fill="#7fb6ee" />
<path d="M585.5,244.4 L600.0,254.4 L625.7,276.0 L641.0,284.2 L650.0,285.0 L650.0,268.0 L643.3,276.0 L623.4,270.1 L600.0,252.0 Z" fill="#c8680c" />
<path d="M600.0,252.5 L623.4,270.6 L643.3,276.5 L646.0,274.0 L630.0,273.5 L623.4,272.5 L600.0,254.5 Z" fill="#8c7a2a" opacity="0.8"/>
<path d="M585.1,241.0 L649.3,236.8 L650.0,236.8 L650.0,268.0 L648.0,270.7 L643.3,276.0 L623.4,270.1 L600.0,252.0 Z" fill="#3562b8" />
<clipPath id="bflatR"><path d="M585.1,241.0 L649.3,236.8 L650.0,236.8 L650.0,268.0 L648.0,270.7 L643.3,276.0 L623.4,270.1 L600.0,252.0 Z"/></clipPath>
<g clip-path="url(#bflatR)"><path d="M580.6,241.2 L705.6,233.7 M580.6,244.3 L705.6,236.8 M580.6,247.4 L705.6,239.9 M580.6,250.5 L705.6,243.0 M580.6,253.6 L705.6,246.1 M580.6,256.7 L705.6,249.2 M580.6,259.8 L705.6,252.3 M580.6,262.9 L705.6,255.4 M580.6,266.0 L705.6,258.5 M580.6,269.1 L705.6,261.6 M580.6,272.2 L705.6,264.7 M580.6,275.3 L705.6,267.8 M580.6,278.4 L705.6,270.9 M573.1,240.8 L613.1,264.8 M588.6,239.9 L628.6,263.9 M604.1,239.0 L644.1,263.0 M619.6,238.0 L659.6,262.0 M635.1,237.1 L675.1,261.1 M650.6,236.2 L690.6,260.2 M666.1,235.2 L706.1,259.2 M681.6,234.3 L721.6,258.3 M697.1,233.4 L737.1,257.4 " stroke="#1a2a50" stroke-width="0.7" fill="none" opacity="0.75" />
</g>
<path d="M704.3,175.7 L716.4,185.7 L730.7,191.4 L740.7,198.6 L743.6,202.9 L742.1,207.1 L733.6,211.4 L716.4,214.3 L700.7,215.7 Z" fill="#1f3a7a" />
<path d="M708,180 L706,214 M714,185 L712,214 M721,188 L719,213 M728,190 L727,212 M735,194 L734,210" stroke="#2d4a8a" stroke-width="0.6" fill="none" opacity="0.8" />
<path d="M704.3,175.7 L723.6,182.9 L745.0,188.6 L775.0,198.6 L806.0,211.1 L775.0,212.9 L700.7,217.1 L700.7,215.7 L716.4,214.3 L733.6,211.4 L742.1,207.1 L743.6,202.9 L740.7,198.6 L730.7,191.4 L716.4,185.7 Z" fill="#d0d0d0" stroke="#444" stroke-width="0.5" stroke-linejoin="round"/>
<path d="M712.1,180.7 C730,185.5 748,192 754,199 C758,204.5 754,208.5 742,210.8 L712,213.6" stroke="#3a3a3a" stroke-width="2.3" fill="none" opacity="0.65" />
<path d="M712.1,180.7 C730,185.5 748,192 754,199 C758,204.5 754,208.5 742,210.8 L712,213.6" stroke="#fff" stroke-width="1.15" fill="none" opacity="1" />
<path d="M577.0,177.6 L814.9,165.5 M814.9,165.5 L949.5,200.4 M949.5,200.4 L649.5,221.0 M649.5,221.0 L577.0,177.6 M577.0,177.6 L580.8,279.8 M580.8,279.8 L652.0,355.8 M652.0,355.8 L945.2,320.2 M945.2,320.2 L949.5,200.4 M649.5,221.0 L652.0,355.8 " stroke="#444" stroke-width="0.85" fill="none"/>
<path d="M580.6,274.2 L584.2,274.2 M580.4,268.6 L584.0,268.5 M580.2,262.9 L587.2,262.8 M580.0,257.2 L583.6,257.2 M579.7,251.5 L583.3,251.5 M579.5,245.9 L583.1,245.8 M579.3,240.2 L586.3,240.1 M579.1,234.5 L582.7,234.5 M578.9,228.8 L582.5,228.8 M578.7,223.2 L582.3,223.1 M578.5,217.5 L585.5,217.4 M578.3,211.8 L581.9,211.8 M578.1,206.1 L581.7,206.1 M577.9,200.5 L581.5,200.4 M577.6,194.8 L584.6,194.7 M577.4,189.1 L581.0,189.1 M577.2,183.4 L580.8,183.4 M580.8,279.8 L580.9,273.3 M586.3,285.7 L586.4,282.1 M592.1,291.9 L592.2,288.3 M598.3,298.4 L598.4,294.8 M604.7,305.3 L604.8,301.7 M611.5,312.6 L611.6,306.1 M618.7,320.2 L618.8,316.6 M626.3,328.3 L626.4,324.7 M634.3,336.9 L634.4,333.3 M642.9,346.1 L643.0,342.5 M652.0,355.8 L652.1,349.3 M582.9,177.3 L585.1,178.6 M595.2,176.7 L596.6,177.5 M607.4,176.1 L608.8,176.9 M619.5,175.4 L620.9,176.2 M631.5,174.8 L632.9,175.6 M643.4,174.2 L645.6,175.5 M655.2,173.6 L656.6,174.4 M666.9,173.0 L668.3,173.8 M678.5,172.4 L679.9,173.2 M690.0,171.9 L691.4,172.7 M701.4,171.3 L703.7,172.6 M712.8,170.7 L714.1,171.5 M724.0,170.1 L725.3,170.9 M735.1,169.6 L736.5,170.4 M746.1,169.0 L747.5,169.8 M757.1,168.4 L759.3,169.7 M767.9,167.9 L769.3,168.7 M778.7,167.3 L780.1,168.1 M789.4,166.8 L790.8,167.6 M800.0,166.3 L801.3,167.1 M810.5,165.7 L812.7,167.0 " stroke="#555" stroke-width="0.7" fill="none"/>
<g font-size="16.7" transform="translate(532.5,0)">
<text x="11" y="174">−1.0</text>
<text x="71.6" y="172.2">−0.5</text>
<text x="139.9" y="171.2">0.0</text>
<text x="195.8" y="170.2">0.5</text>
<text x="249" y="167.6">1.0</text>
<text x="38.9" y="200.6" text-anchor="end">4</text>
<text x="39.3" y="223.4" text-anchor="end">2</text>
<text x="39.6" y="246.2" text-anchor="end">0</text>
<text x="41" y="268.6" text-anchor="end">−2</text>
<text x="8.6" y="237.2">q</text>
<text x="37.3" y="301">0.0</text>
<text x="67.4" y="333">0.5</text>
<text x="106.8" y="374.3">1.0</text>
<text x="134" y="148.3" style="font-style:italic;font-weight:normal;font-size:18.3px">η</text>
<text x="73.6" y="354.3" style="font-style:italic;font-weight:normal;font-size:18.3px">ρ</text>
</g>
<text transform="translate(136.3,0) scale(0.985,1)" x="0" y="24.5" font-size="21.5"><tspan font-style="italic">T</tspan><tspan font-size="15" dy="3.6">2</tspan><tspan dy="-3.6">:</tspan><tspan font-style="italic">ϵ</tspan>=1, <tspan font-style="italic">ζ</tspan>=3, <tspan font-style="italic">λ</tspan>=1</text>
<text transform="translate(657.1,0) scale(0.978,1)" x="0" y="24.5" font-size="21.5"><tspan font-style="italic">T</tspan><tspan font-size="15" dy="3.6">2</tspan><tspan dy="-3.6">:</tspan><tspan font-style="italic">ϵ</tspan>=1, <tspan font-style="italic">ζ</tspan>=−3, <tspan font-style="italic">λ</tspan>=−1</text>
<g id="legend">
  <rect x="445" y="200.3" width="7.2" height="7.2" fill="url(#sw1)" stroke="#6a4a30" stroke-width="0.5"/>
  <rect x="445" y="228.6" width="7.2" height="7.2" fill="url(#sw2)" stroke="#2a3a60" stroke-width="0.5"/>
  <rect x="445" y="256" width="7.2" height="7.2" fill="url(#sw3)" stroke="#4a5a38" stroke-width="0.5"/>
  <text x="462" y="207.8" font-size="16.7" style="font-style:italic;font-weight:normal">ω<tspan font-size="13" dy="3" dx="0.6">ϕ</tspan></text>
  <text x="461.7" y="236" font-size="17">q</text>
  <text x="461.7" y="263.2" font-size="17.1">Plane 0</text>
</g>
<use href="#legend" transform="translate(532,0)"/>
</svg>
</body></html>
